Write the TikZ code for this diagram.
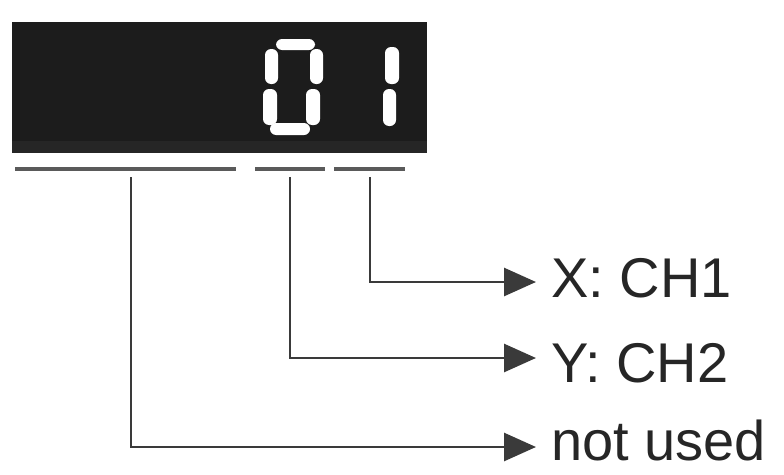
\documentclass[tikz,border=0pt]{standalone}
\usepackage{fontspec}
\setmainfont{Liberation Sans}
\usetikzlibrary{arrows.meta}
\definecolor{dispbg}{HTML}{1C1C1C}
\definecolor{dispband}{HTML}{262626}
\definecolor{linegray}{HTML}{3A3A3A}
\definecolor{ulgray}{HTML}{5A5A5A}
\tikzset{
  seg/.style={fill=white, draw=none, rounded corners=6pt},
  ul/.style={draw=ulgray, line width=4.5pt},
  conn/.style={draw=linegray, line width=2.8pt, -{Triangle[length=32pt,width=28pt]}},
  lbl/.style={anchor=base west, inner sep=0pt, font=\fontsize{56}{60}\selectfont, text=black!85}
}
\begin{document}
\begin{tikzpicture}[x=1pt,y=-1pt]
\useasboundingbox (0,0) rectangle (784,474);
% display
\fill[dispbg] (12,22) rectangle (427,153);
\node[inner sep=0pt, minimum width=415pt, minimum height=131pt, anchor=north west] (disp) at (12,22) {};
\fill[dispband] (12,141) rectangle (427,153);
% digit 0
\fill[seg] (276,39) rectangle (315,50);
\fill[seg] (265,49) rectangle (278,84);
\fill[seg] (310,49) rectangle (323,84);
\fill[seg] (263,89) rectangle (277,125);
\fill[seg] (306,89) rectangle (320,125);
\fill[seg] (270,123) rectangle (310,135);
% digit 1
\fill[seg] (385,47) rectangle (399,84);
\fill[seg] (383,89) rectangle (396,126);
% underlines
\draw[ul] (15,169) -- (236,169);
\draw[ul] (255,169) -- (325,169);
\draw[ul] (334,169) -- (405,169);
% connector start points
\coordinate (v1) at (131,177);
\coordinate (v2) at (290,177);
\coordinate (v3) at (370,177);
% arrow tips
\coordinate (t3) at (536,282);
\coordinate (t2) at (536,358);
\coordinate (t1) at (536,447);
% labels
\node[lbl] (lx) at (551,297) {X: CH1};
\node[lbl] (ly) at (551,382) {Y: CH2};
\node[lbl] (ln) at (551,460) {not used};
% connectors
\draw[conn] (v3) |- (t3);
\draw[conn] (v2) |- (t2);
\draw[conn] (v1) |- (t1);
\end{tikzpicture}
\end{document}
